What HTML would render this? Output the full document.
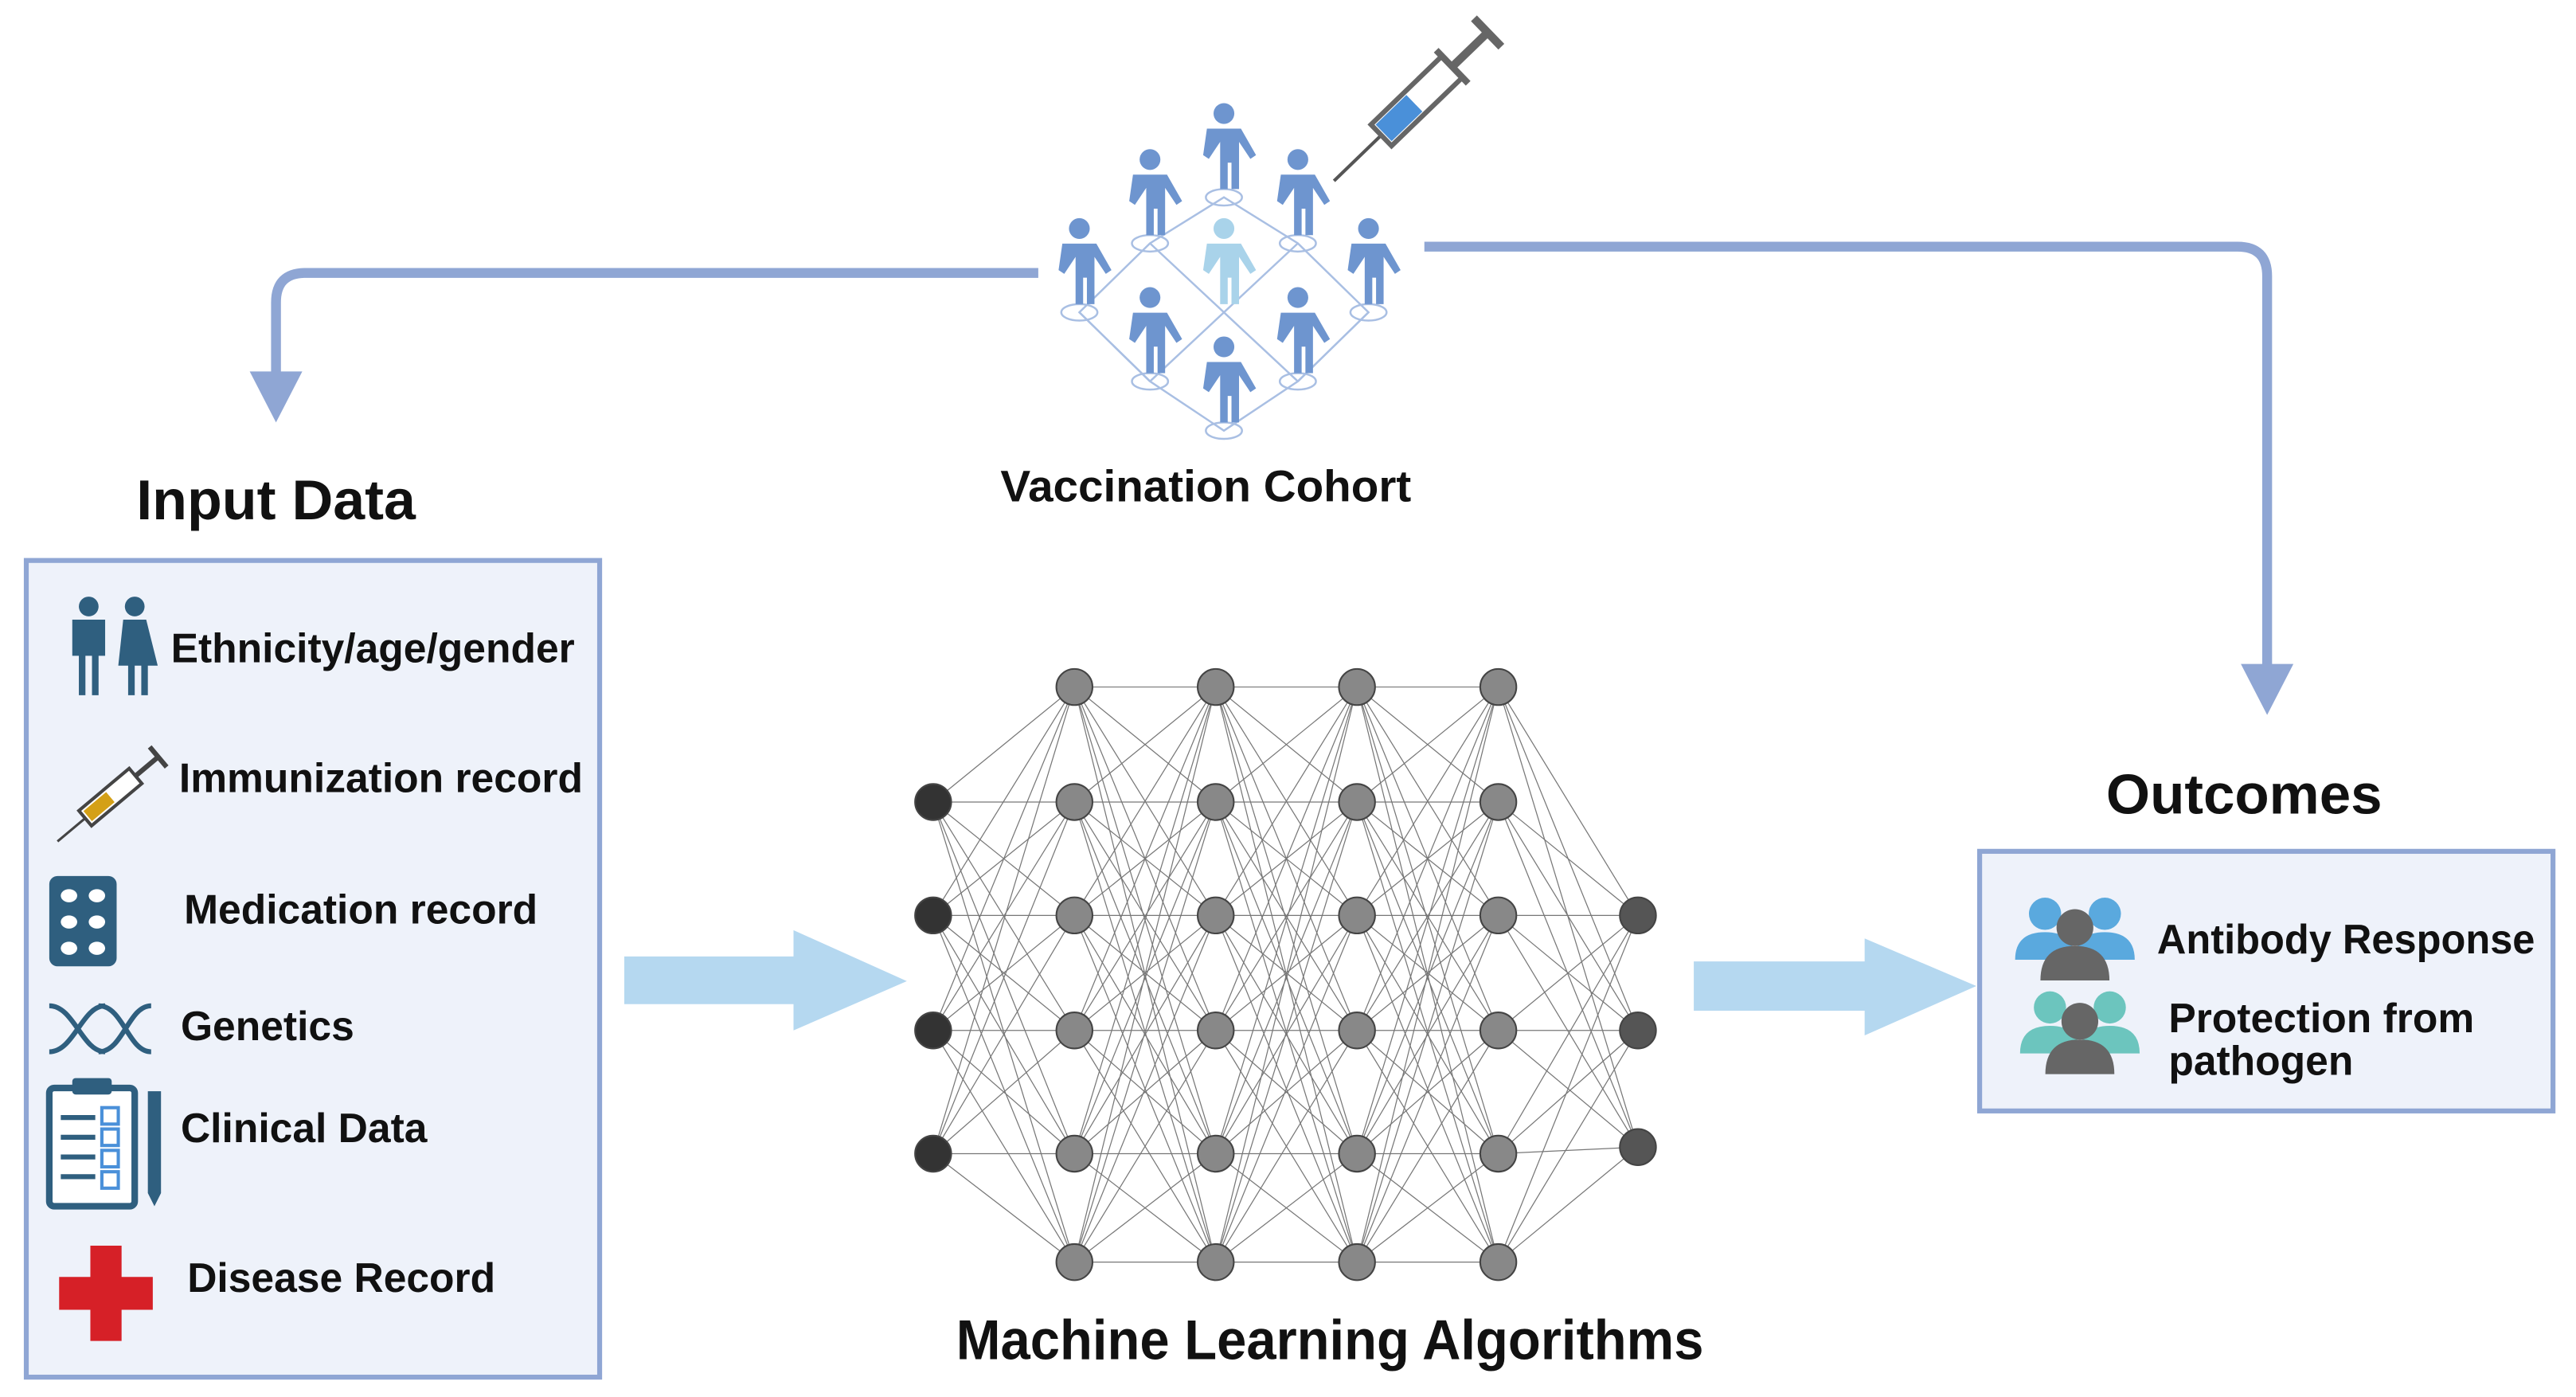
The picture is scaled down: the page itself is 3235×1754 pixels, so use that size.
<!DOCTYPE html>
<html><head><meta charset="utf-8">
<style>
html,body{margin:0;padding:0;background:#fff;}
svg{display:block;}
text{font-family:"Liberation Sans",Arial,sans-serif;font-weight:bold;fill:#111;}
</style></head>
<body>
<svg id="s" width="3235" height="1754" viewBox="0 0 1568 850" xmlns="http://www.w3.org/2000/svg">
<defs>
<g id="person">
  <ellipse cx="0" cy="28" rx="11" ry="5" fill="none" stroke="#a9bfe3" stroke-width="1.2"/>
  <g transform="scale(1.15)">
  <circle cx="0" cy="-20" r="5.5" fill="#6e95cf"/>
  <path d="M-9,-12 h18 l8,14 -3,2 -6,-9 v25 h-4 v-14 h-2 v14 h-4 v-25 l-6,9 -3,-2z" fill="#6e95cf"/>
  </g>
</g>
<g id="personL">
  <g transform="scale(1.15)">
  <circle cx="0" cy="-20" r="5.5" fill="#a9d3ea"/>
  <path d="M-9,-12 h18 l8,14 -3,2 -6,-9 v25 h-4 v-14 h-2 v14 h-4 v-25 l-6,9 -3,-2z" fill="#a9d3ea"/>
  </g>
</g>
<g id="grp">
  <circle cx="-13" cy="-10" r="7" fill="currentColor"/>
  <path d="M-26,10 q0,-12 13,-12 q13,0 13,12z" fill="currentColor"/>
  <circle cx="13" cy="-10" r="7" fill="currentColor"/>
  <path d="M0,10 q0,-12 13,-12 q13,0 13,12z" fill="currentColor"/>
  <circle cx="0" cy="-4" r="8" fill="#666"/>
  <path d="M-15,19 q0,-15 15,-15 q15,0 15,15z" fill="#666"/>
</g>
</defs>

<path d="M632,166 H186 Q168,166 168,184 V228" fill="none" stroke="#8fa6d4" stroke-width="6"/>
<polygon points="152,226 184,226 168,257" fill="#8fa6d4"/>
<path d="M867,150 H1362 Q1380,150 1380,168 V405" fill="none" stroke="#8fa6d4" stroke-width="6"/>
<polygon points="1364,404 1396,404 1380,435" fill="#8fa6d4"/>

<g stroke="#a9bfe3" stroke-width="1.2" fill="none">
<path d="M657,190 L700,148 L745,120 L790,148 L833,190 L790,232 L745,262 L700,232 Z"/>
<path d="M700,148 L745,190 L790,148 M700,232 L745,190 L790,232 M657,190 L700,232 M833,190 L790,232"/>
</g>
<use href="#person" x="745" y="92"/>
<use href="#person" x="700" y="120"/>
<use href="#person" x="790" y="120"/>
<use href="#person" x="657" y="162"/>
<use href="#personL" x="745" y="162"/>
<use href="#person" x="833" y="162"/>
<use href="#person" x="700" y="204"/>
<use href="#person" x="790" y="204"/>
<use href="#person" x="745" y="234"/>
<g transform="translate(812,110) rotate(-44)">
  <line x1="0" y1="0" x2="40" y2="0" stroke="#555" stroke-width="2"/>
  <rect x="40" y="-9" width="60" height="18" fill="#fff" stroke="#666" stroke-width="3"/>
  <rect x="42" y="-7" width="26" height="14" fill="#4a90d9"/>
  <line x1="100" y1="0" x2="130" y2="0" stroke="#666" stroke-width="5"/>
  <line x1="100" y1="-14" x2="100" y2="14" stroke="#666" stroke-width="4"/>
  <line x1="130" y1="-12" x2="130" y2="12" stroke="#666" stroke-width="5"/>
</g>
<text x="609" y="305" font-size="27" textLength="250" lengthAdjust="spacingAndGlyphs">Vaccination Cohort</text>

<text x="83" y="316" font-size="34" textLength="170" lengthAdjust="spacingAndGlyphs">Input Data</text>
<rect x="16" y="341" width="349" height="497" fill="#eef2fa" stroke="#8fa6d4" stroke-width="3"/>
<g font-size="25">
<text x="104" y="403">Ethnicity/age/gender</text>
<text x="109" y="482">Immunization record</text>
<text x="112" y="562">Medication record</text>
<text x="110" y="633">Genetics</text>
<text x="110" y="695">Clinical Data</text>
<text x="114" y="786">Disease Record</text>
</g>
<g fill="#2f5f7f">
  <circle cx="54" cy="369" r="6"/><path d="M44,377 h20 v22 h-4 v24 h-4 v-24 h-4 v24 h-4 v-24 h-4z"/>
  <circle cx="82" cy="369" r="6"/><path d="M75,377 h14 l7,28 h-6 v18 h-4 v-18 h-4 v18 h-4 v-18 h-6z"/>
</g>
<g transform="translate(35,512) rotate(-40)">
  <line x1="0" y1="0" x2="22" y2="0" stroke="#444" stroke-width="1.5"/>
  <rect x="22" y="-6" width="40" height="12" fill="#fff" stroke="#444" stroke-width="2"/>
  <rect x="24" y="-4" width="18" height="8" fill="#d4a017"/>
  <line x1="62" y1="0" x2="80" y2="0" stroke="#444" stroke-width="3"/>
  <line x1="80" y1="-8" x2="80" y2="8" stroke="#444" stroke-width="3"/>
</g>
<rect x="30" y="533" width="41" height="55" rx="5" fill="#2f5f7f"/>
<g fill="#fff">
<ellipse cx="42" cy="545" rx="5" ry="4"/><ellipse cx="59" cy="545" rx="5" ry="4"/>
<ellipse cx="42" cy="561" rx="5" ry="4"/><ellipse cx="59" cy="561" rx="5" ry="4"/>
<ellipse cx="42" cy="577" rx="5" ry="4"/><ellipse cx="59" cy="577" rx="5" ry="4"/>
</g>
<g fill="none" stroke="#2f5f7f" stroke-width="3">
<path d="M30,612 C45,612 50,640 64,640 M30,640 C45,640 50,612 64,612 M60,612 C75,612 78,640 92,640 M60,640 C75,640 78,612 92,612"/>
</g>
<rect x="30" y="662" width="52" height="72" rx="3" fill="#fff" stroke="#2f5f7f" stroke-width="4"/>
<rect x="44" y="656" width="24" height="10" rx="2" fill="#2f5f7f"/>
<g stroke="#2f5f7f" stroke-width="3">
<line x1="37" y1="680" x2="58" y2="680"/><line x1="37" y1="692" x2="58" y2="692"/>
<line x1="37" y1="704" x2="58" y2="704"/><line x1="37" y1="716" x2="58" y2="716"/>
</g>
<g fill="none" stroke="#4a90d9" stroke-width="2">
<rect x="62" y="674" width="10" height="10"/><rect x="62" y="687" width="10" height="10"/>
<rect x="62" y="700" width="10" height="10"/><rect x="62" y="713" width="10" height="10"/>
</g>
<rect x="90" y="664" width="8" height="62" fill="#2f5f7f"/>
<polygon points="90,726 98,726 94,734" fill="#2f5f7f"/>
<path d="M55,758 h19 v19 h19 v20 h-19 v19 h-19 v-19 h-19 v-20 h19z" fill="#d62027"/>

<polygon points="380,582 483,582 483,566 552,597 483,627 483,611 380,611" fill="#b5d8f0"/>
<polygon points="1031,585 1135,585 1135,571 1203,600 1135,630 1135,615 1031,615" fill="#b5d8f0"/>

<g id="nn"></g>
<text x="582" y="827" font-size="34" textLength="455" lengthAdjust="spacingAndGlyphs">Machine Learning Algorithms</text>

<text x="1282" y="495" font-size="34" textLength="168" lengthAdjust="spacingAndGlyphs">Outcomes</text>
<rect x="1205" y="518" width="349" height="158" fill="#eef2fa" stroke="#8fa6d4" stroke-width="3"/>
<g transform="translate(1263,570) scale(1.4)" style="color:#5aa9de"><use href="#grp"/></g>
<g transform="translate(1266,627) scale(1.4)" style="color:#6cc5be"><use href="#grp"/></g>
<g font-size="25">
<text x="1313" y="580" textLength="230" lengthAdjust="spacingAndGlyphs">Antibody Response</text>
<text x="1320" y="628">Protection from</text>
<text x="1320" y="654">pathogen</text>
</g>
</svg>
<script>
(function(){
var ns="http://www.w3.org/2000/svg",g=document.getElementById("nn");
var H=[418,488,557,627,702,768];
var L=[{x:568,y:[488,557,627,702],c:"#333"}];
[654,740,826,912].forEach(function(x){L.push({x:x,y:H,c:"#888"});});
L.push({x:997,y:[557,627,698],c:"#555"});
for(var i=0;i<L.length-1;i++){L[i].y.forEach(function(a){L[i+1].y.forEach(function(b){
var l=document.createElementNS(ns,"line");l.setAttribute("x1",L[i].x);l.setAttribute("y1",a);
l.setAttribute("x2",L[i+1].x);l.setAttribute("y2",b);l.setAttribute("stroke","#777");l.setAttribute("stroke-width","0.6");g.appendChild(l);});});}
L.forEach(function(layer){layer.y.forEach(function(y){var c=document.createElementNS(ns,"circle");
c.setAttribute("cx",layer.x);c.setAttribute("cy",y);c.setAttribute("r","11");c.setAttribute("fill",layer.c);
c.setAttribute("stroke","#444");c.setAttribute("stroke-width","1");g.appendChild(c);});});
})();
</script>
</body></html>
